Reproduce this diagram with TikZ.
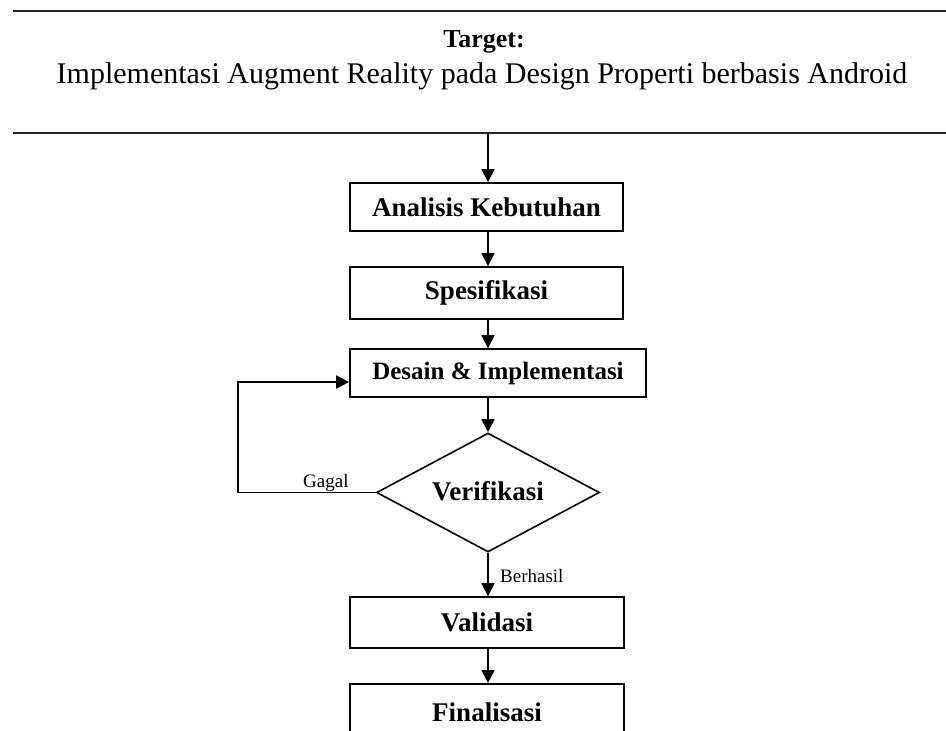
\documentclass[tikz,border=0pt]{standalone}
\usepackage{fontspec}
\setmainfont{Liberation Serif}
\usetikzlibrary{arrows.meta,shapes.geometric}
\begin{document}
\begin{tikzpicture}[x=1pt,y=-1pt,
  stepbox/.style={draw=black,line width=1.8pt,inner sep=0pt,minimum height=48pt,
    font=\fontsize{27}{30}\selectfont\bfseries},
  decbox/.style={draw=black,line width=1.6pt,shape=diamond,aspect=1.87,inner sep=0pt,
    minimum width=223pt,minimum height=119pt,font=\fontsize{27}{30}\selectfont\bfseries},
  arr/.style={draw=black,line width=1.8pt,-{Triangle[length=13pt,width=13pt]}},
  lbl/.style={inner sep=0pt,font=\fontsize{19}{21}\selectfont},
  rule/.style={draw=black!85,line width=2.6pt}]
\useasboundingbox (0,0) rectangle (946,731);
\clip (0,0) rectangle (946,731);
\fill[white] (0,0) rectangle (946,731);
% target header
\coordinate (tl) at (13,11);
\coordinate (tr) at (946,11);
\coordinate (bl) at (13,133);
\coordinate (br) at (946,133);
\draw[rule] (tl) -- (tr);
\draw[rule] (bl) -- (br);
\node[anchor=base,inner sep=0pt,font=\fontsize{26}{28}\selectfont\bfseries] (t1) at (484,47) {Target:};
\node[anchor=base,inner sep=0pt,font=\fontsize{30}{32}\selectfont] (t2) at (482,83) {Implementasi Augment Reality pada Design Properti berbasis Android};
\coordinate (hb) at (488,133);
% steps
\node[stepbox,minimum width=273pt] (ana) at (486.5,207) {Analisis Kebutuhan};
\node[stepbox,minimum width=273pt,minimum height=52pt] (spe) at (486.5,293) {Spesifikasi};
\node[stepbox,minimum width=296pt,font=\fontsize{25}{28}\selectfont\bfseries] (des) at (498,373) {Desain \& Implementasi};
\node[decbox] (ver) at (488,492.5) {\raisebox{3pt}{Verifikasi}};
\node[stepbox,minimum width=274pt,minimum height=51pt] (val) at (487,622.5) {Validasi};
\node[stepbox,minimum width=274pt,minimum height=56pt] (fin) at (487,712) {Finalisasi};
% connectors
\draw[arr] (hb) -- (hb |- ana.north);
\draw[arr] (hb |- ana.south) -- (hb |- spe.north);
\draw[arr] (hb |- spe.south) -- (hb |- des.north);
\draw[arr] (hb |- des.south) -- (ver.north);
\draw[arr] (ver.south) -- (ver.south |- val.north);
\draw[arr] (ver.south |- val.south) -- (ver.south |- fin.north);
\coordinate (loop) at (238,382);
\draw[arr] (ver.west) -| (loop) -- (loop -| des.west);
\node[lbl,anchor=base west] (gag) at (303,487) {Gagal};
\node[lbl,anchor=base west,font=\fontsize{19}{21}\selectfont] (ber) at (500,582) {Berhasil};
\end{tikzpicture}
\end{document}
